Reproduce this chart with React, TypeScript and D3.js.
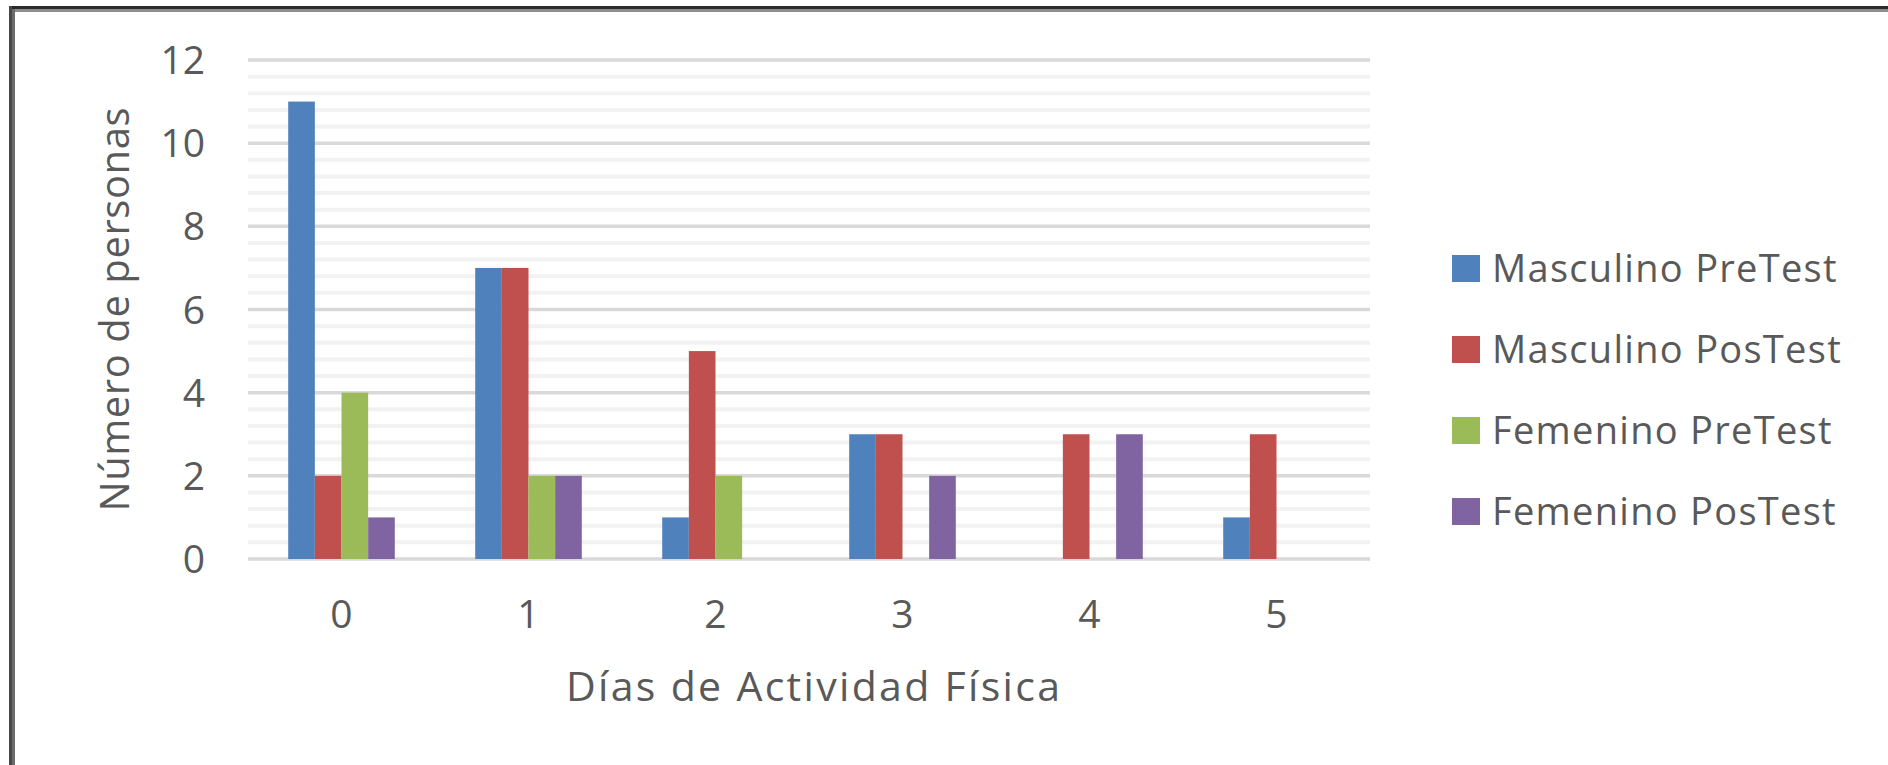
import React from 'react';
import * as d3 from 'd3';

const categories = ['0', '1', '2', '3', '4', '5'];
const seriesNames = ['Masculino PreTest', 'Masculino PosTest', 'Femenino PreTest', 'Femenino PosTest'];
const masculinoPre = [11, 7, 1, 3, 0, 1];
const masculinoPos = [2, 7, 5, 3, 3, 3];
const femeninoPre = [4, 2, 2, 0, 0, 0];
const femeninoPos = [1, 2, 0, 2, 3, 0];
const colors = ['#4F81BD', '#C0504D', '#9BBB59', '#8064A2'];
const yTicks = [0, 2, 4, 6, 8, 10, 12];

const series = [masculinoPre, masculinoPos, femeninoPre, femeninoPos];

const W = 1888;
const H = 765;
const font = '"Open Sans", Lato, sans-serif';
const textColor = '#595959';

const App = () => {
  const left = 248, right = 1370, top = 60, bottom = 559;

  const x = d3.scaleBand<string>()
    .domain(categories)
    .range([left, right])
    .paddingInner(0.43)
    .paddingOuter(0.215);

  const xs = d3.scaleBand<string>()
    .domain(seriesNames)
    .range([0, x.bandwidth()]);

  const y = d3.scaleLinear().domain([0, 12]).range([bottom, top]);

  // minor lines every 0.4
  const minor = d3.range(0, 12.01, 0.4).filter(v => Math.abs(v / 2 - Math.round(v / 2)) > 0.01);

  return (
    <svg width={W} height={H} style={{ position: 'absolute', left: 0, top: 0 }}>
      <rect x={0} y={0} width={W} height={H} fill="#fff" />
      {/* frame */}
      <rect x={9} y={6} width={W} height={3} fill="#2b2b2b" />
      <rect x={12} y={9} width={W} height={3} fill="#8e8e8e" />
      <rect x={9} y={6} width={3} height={H} fill="#484848" />
      <rect x={12} y={9} width={3} height={H} fill="#6b6b6b" />

      {minor.map((v, i) => (
        <line key={'m' + i} x1={left} x2={right} y1={y(v)} y2={y(v)} stroke="#f2f2f2" strokeWidth={4} />
      ))}
      {yTicks.map(t => (
        <line key={'g' + t} x1={left} x2={right} y1={y(t)} y2={y(t)} stroke="#d9d9d9" strokeWidth={3.5} />
      ))}

      {categories.map((c, ci) => (
        <g key={c}>
          {series.map((s, si) => {
            const v = s[ci];
            if (!v) return null;
            return (
              <rect
                key={si}
                x={(x(c) ?? 0) + (xs(seriesNames[si]) ?? 0)}
                y={y(v)}
                width={xs.bandwidth()}
                height={y(0) - y(v)}
                fill={colors[si]}
              />
            );
          })}
        </g>
      ))}

      {yTicks.map(t => (
        <text key={'yt' + t} x={205} y={y(t)} dy="0.36em" textAnchor="end"
          fontFamily={font} fontSize={39} fill={textColor}>{t}</text>
      ))}
      {categories.map(c => (
        <text key={'xt' + c} x={(x(c) ?? 0) + x.bandwidth() / 2} y={614} dy="0.36em" textAnchor="middle"
          fontFamily={font} fontSize={39} fill={textColor}>{c}</text>
      ))}

      <text x={813} y={686} dy="0.36em" textAnchor="middle" textLength={494} lengthAdjust="spacing"
        fontFamily={font} fontSize={41} fill={textColor}>Días de Actividad Física</text>
      <text transform={`translate(115, ${(top + bottom) / 2}) rotate(-90)`} dy="0.36em" textAnchor="middle"
        textLength={404} lengthAdjust="spacing"
        fontFamily={font} fontSize={40} fill={textColor}>Número de personas</text>

      {seriesNames.map((n, i) => {
        const cy = 268 + i * 81;
        return (
          <g key={n}>
            <rect x={1452} y={cy - 13} width={28} height={27} fill={colors[i]} />
            <text x={1492} y={cy} dy="0.36em" fontFamily={font} fontSize={38} letterSpacing={1.3}
              fill={textColor}>{n}</text>
          </g>
        );
      })}
    </svg>
  );
};

export default App;
